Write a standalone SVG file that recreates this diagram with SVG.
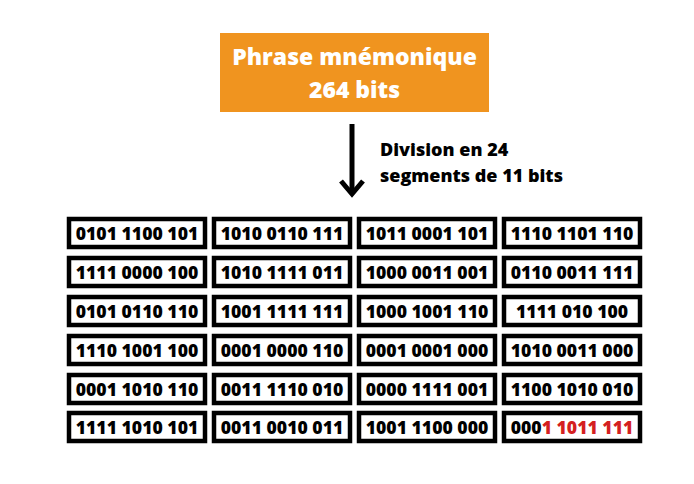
<svg xmlns="http://www.w3.org/2000/svg" width="694" height="484" viewBox="0 0 694 484">
<style>
.b rect{fill:#fff;stroke:#000;stroke-width:4.5}
.b text{font-family:"Open Sans","Liberation Sans",sans-serif;font-weight:800;font-size:17.6px;fill:#000;text-anchor:middle}
.t{font-family:"Open Sans","Liberation Sans",sans-serif;font-weight:800;fill:#fff;font-size:23px;text-anchor:middle}
.l{font-family:"Open Sans","Liberation Sans",sans-serif;font-weight:800;fill:#000;font-size:18px}
.red{fill:#d42020}
</style>
<rect width="694" height="484" fill="#fff"/>
<g id="phrase">
<rect x="220" y="33" width="269" height="79" fill="#f0941f"/>
<text class="t" x="354.5" y="65">Phrase mnémonique</text>
<text class="t" x="354.5" y="98">264 bits</text>
</g>
<g id="connectors">
<line x1="352" y1="124" x2="352" y2="193" stroke="#000" stroke-width="5"/>
<polyline points="341,181 352,194 363,181" fill="none" stroke="#000" stroke-width="5" stroke-linejoin="miter"/>
</g>
<g id="label">
<text class="l" x="380" y="156">Division en 24</text>
<text class="l" x="380" y="182">segments de 11 bits</text>
</g>
<g class="b">
<g id="s1"><rect x="69" y="219" width="136" height="28"/><text x="137" y="240">0101 1100 101</text></g>
<g id="s2"><rect x="214" y="219" width="136" height="28"/><text x="282" y="240">1010 0110 111</text></g>
<g id="s3"><rect x="359" y="219" width="136" height="28"/><text x="427" y="240">1011 0001 101</text></g>
<g id="s4"><rect x="504" y="219" width="136" height="28"/><text x="572" y="240">1110 1101 110</text></g>
<g id="s5"><rect x="69" y="258" width="136" height="28"/><text x="137" y="279">1111 0000 100</text></g>
<g id="s6"><rect x="214" y="258" width="136" height="28"/><text x="282" y="279">1010 1111 011</text></g>
<g id="s7"><rect x="359" y="258" width="136" height="28"/><text x="427" y="279">1000 0011 001</text></g>
<g id="s8"><rect x="504" y="258" width="136" height="28"/><text x="572" y="279">0110 0011 111</text></g>
<g id="s9"><rect x="69" y="297" width="136" height="28"/><text x="137" y="318">0101 0110 110</text></g>
<g id="s10"><rect x="214" y="297" width="136" height="28"/><text x="282" y="318">1001 1111 111</text></g>
<g id="s11"><rect x="359" y="297" width="136" height="28"/><text x="427" y="318">1000 1001 110</text></g>
<g id="s12"><rect x="504" y="297" width="136" height="28"/><text x="572" y="318">1111 010 100</text></g>
<g id="s13"><rect x="69" y="336" width="136" height="28"/><text x="137" y="357">1110 1001 100</text></g>
<g id="s14"><rect x="214" y="336" width="136" height="28"/><text x="282" y="357">0001 0000 110</text></g>
<g id="s15"><rect x="359" y="336" width="136" height="28"/><text x="427" y="357">0001 0001 000</text></g>
<g id="s16"><rect x="504" y="336" width="136" height="28"/><text x="572" y="357">1010 0011 000</text></g>
<g id="s17"><rect x="69" y="375" width="136" height="28"/><text x="137" y="396">0001 1010 110</text></g>
<g id="s18"><rect x="214" y="375" width="136" height="28"/><text x="282" y="396">0011 1110 010</text></g>
<g id="s19"><rect x="359" y="375" width="136" height="28"/><text x="427" y="396">0000 1111 001</text></g>
<g id="s20"><rect x="504" y="375" width="136" height="28"/><text x="572" y="396">1100 1010 010</text></g>
<g id="s21"><rect x="69" y="413" width="136" height="28"/><text x="137" y="434">1111 1010 101</text></g>
<g id="s22"><rect x="214" y="413" width="136" height="28"/><text x="282" y="434">0011 0010 011</text></g>
<g id="s23"><rect x="359" y="413" width="136" height="28"/><text x="427" y="434">1001 1100 000</text></g>
<g id="s24"><rect x="504" y="413" width="136" height="28"/><text x="572" y="434">000<tspan class="red">1 1011 111</tspan></text></g>
</g>
</svg>
